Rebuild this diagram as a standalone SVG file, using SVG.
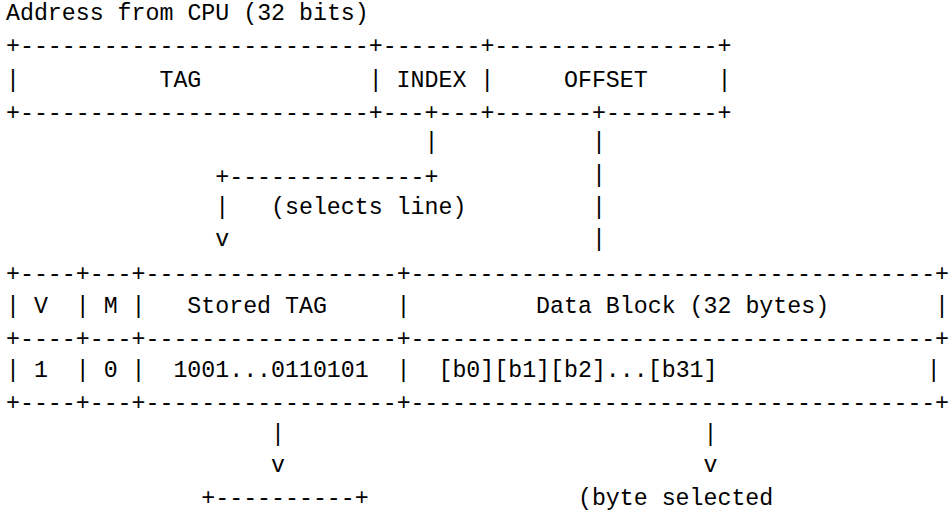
<svg xmlns="http://www.w3.org/2000/svg" width="950" height="510" viewBox="0 0 950 510">
  <style>
    text { font-family: "Liberation Mono", "DejaVu Sans Mono", monospace; font-size: 23.25px; fill: #000; white-space: pre; }
  </style>
  <rect width="950" height="510" fill="#fff"/>

  <!-- heading -->
  <text id="title" x="6" y="20">Address from CPU (32 bits)</text>

  <!-- 32-bit address split into fields -->
  <g id="address">
    <text x="6" y="53.3">+-------------------------+-------+----------------+</text>
    <text x="6" y="86.6">|</text>
    <text x="159.45" y="86.6">TAG</text>
    <text x="368.7" y="86.6">|</text>
    <text x="396.6" y="86.6">INDEX</text>
    <text x="480.3" y="86.6">|</text>
    <text x="564" y="86.6">OFFSET</text>
    <text x="717.45" y="86.6">|</text>
    <text x="6" y="119.9">+-------------------------+---+---+-------+--------+</text>
  </g>

  <!-- routing from address fields to the cache line and out of it -->
  <g id="connectors">
    <!-- index selects the line -->
    <g id="index-path">
      <text x="424.5" y="149.2">|</text>
      <text x="215.25" y="184">+--------------+</text>
      <text x="215.25" y="213.8">|</text>
      <text x="271.05" y="213.8">(selects line)</text>
      <text x="215.25" y="246.1">v</text>
    </g>
    <!-- offset runs down to the data block -->
    <g id="offset-path">
      <text x="591.9" y="149.2">|</text>
      <text x="591.9" y="181.5">|</text>
      <text x="591.9" y="213.8">|</text>
      <text x="591.9" y="246.1">|</text>
    </g>
    <!-- stored tag and selected byte leave the line -->
    <g id="tag-out">
      <text x="271.05" y="440.9">|</text>
      <text x="271.05" y="472.2">v</text>
    </g>
    <g id="byte-path">
      <text x="703.5" y="440.9">|</text>
      <text x="703.5" y="472.2">v</text>
    </g>
  </g>

  <!-- one cache line: valid, modified, stored tag, data -->
  <g id="cache-line">
    <text x="6" y="281">+----+---+------------------+</text>
    <text x="410.55" y="281" textLength="538.4" lengthAdjust="spacing">--------------------------------------+</text>
    <text x="6" y="312.7">|</text>
    <text x="33.9" y="312.7">V</text>
    <text x="75.75" y="312.7">|</text>
    <text x="103.65" y="312.7">M</text>
    <text x="131.55" y="312.7">|</text>
    <text x="187.35" y="312.7">Stored TAG</text>
    <text x="396.6" y="312.7">|</text>
    <text x="536.1" y="312.7">Data Block (32 bytes)</text>
    <text x="935" y="312.7">|</text>
    <text x="6" y="345.5">+----+---+------------------+</text>
    <text x="410.55" y="345.5" textLength="538.4" lengthAdjust="spacing">--------------------------------------+</text>
    <text x="6" y="377.3">|</text>
    <text x="33.9" y="377.3">1</text>
    <text x="75.75" y="377.3">|</text>
    <text x="103.65" y="377.3">0</text>
    <text x="131.55" y="377.3">|</text>
    <text x="173.4" y="377.3">1001...0110101</text>
    <text x="396.6" y="377.3">|</text>
    <text x="438.45" y="377.3">[b0][b1][b2]...[b31]</text>
    <text x="926.7" y="377.3">|</text>
    <text x="6" y="410.2">+----+---+------------------+</text>
    <text x="410.55" y="410.2" textLength="538.4" lengthAdjust="spacing">--------------------------------------+</text>
  </g>

  <!-- tag comparator (top edge) -->
  <g id="tag-compare">
    <text x="201.3" y="504.5">+----------+</text>
  </g>

  <!-- selected byte result -->
  <g id="byte-out">
    <text x="577.95" y="504.5">(byte selected</text>
  </g>
</svg>
